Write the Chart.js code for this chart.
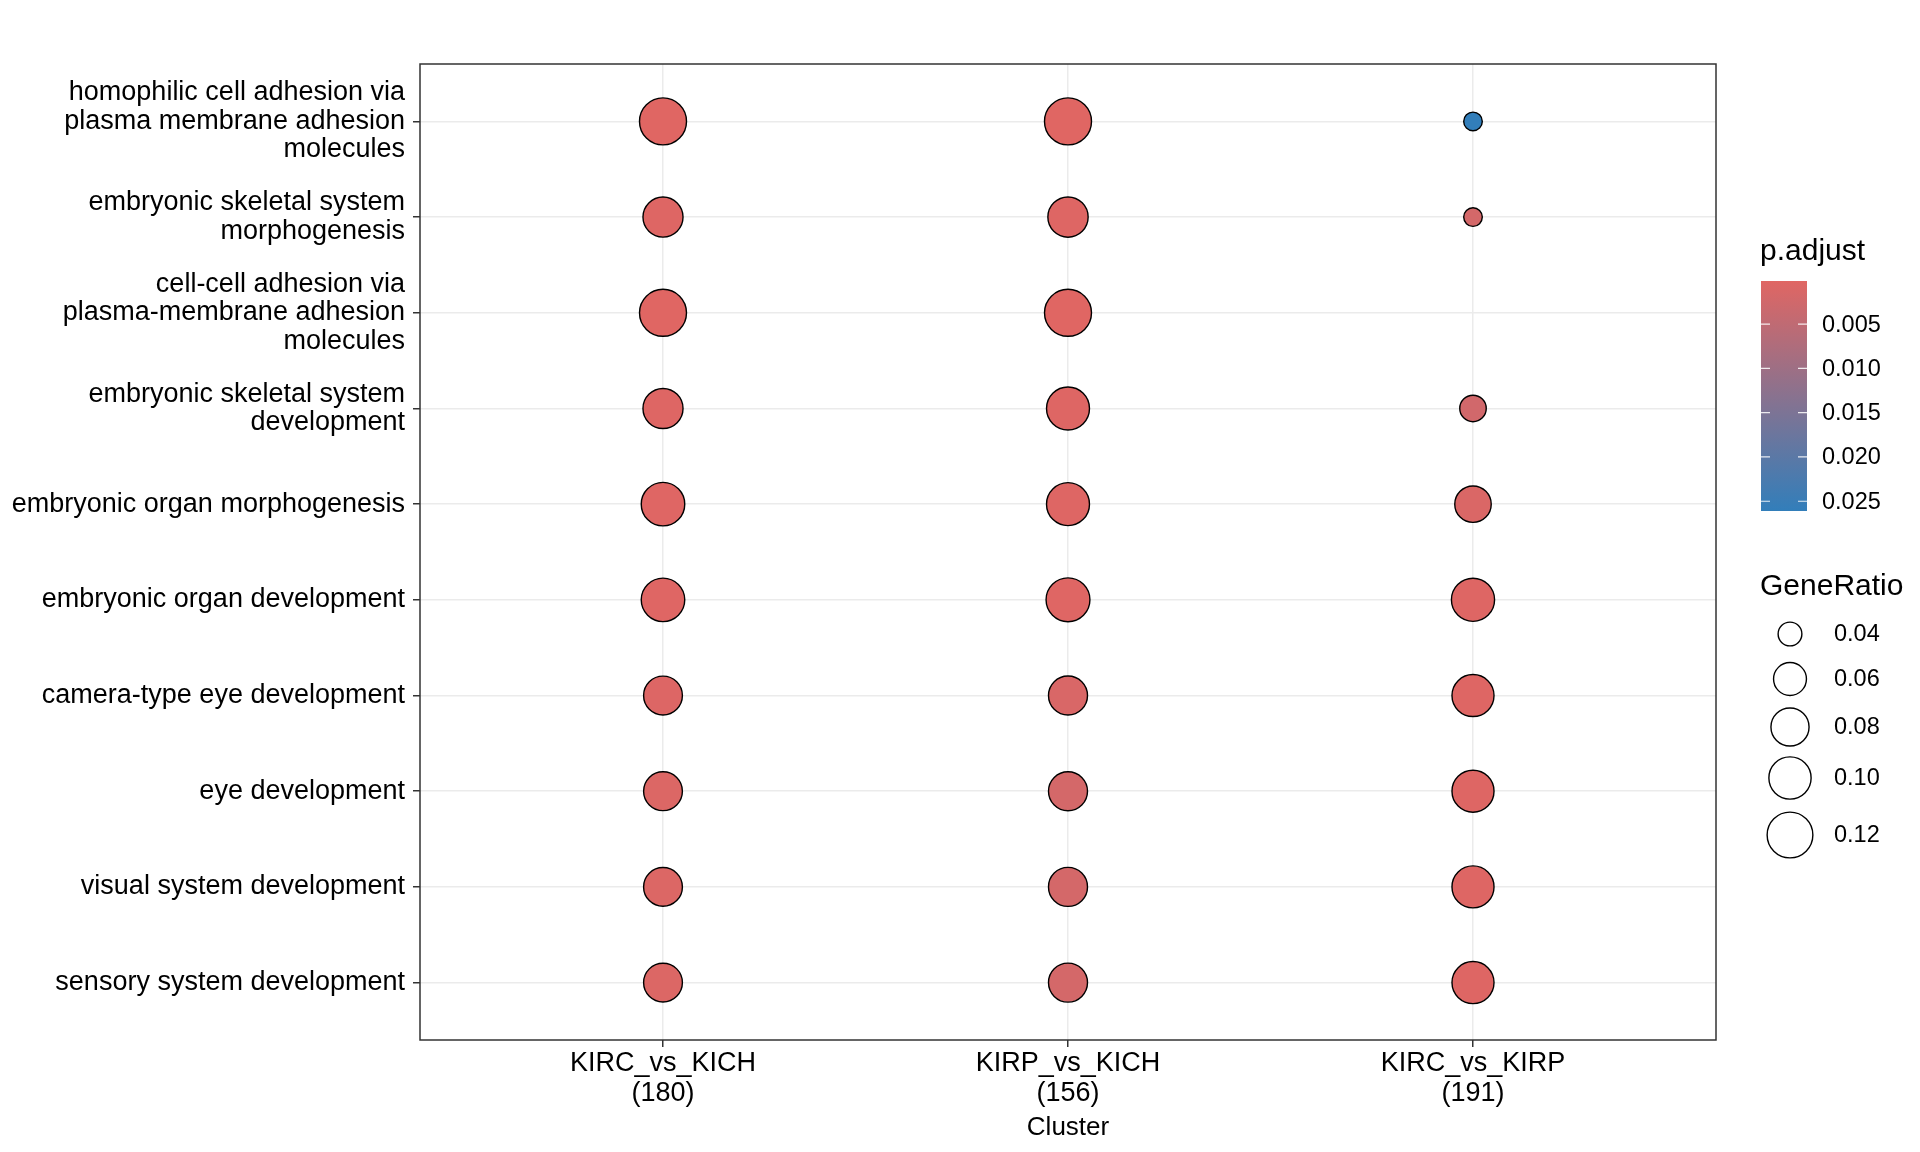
<!DOCTYPE html>
<html>
<head>
<meta charset="utf-8">
<script src="https://cdn.jsdelivr.net/npm/chart.js@4.4.1/dist/chart.umd.min.js"></script>
<style>
  body { margin: 0; background: #fff; }
  canvas { display: block; }
</style>
</head>
<body>
<canvas id="dotChart" width="1920" height="1152"></canvas>
<script>
// GO terms, top to bottom
const terms = [
    ['homophilic cell adhesion via', 'plasma membrane adhesion', 'molecules'],
    ['embryonic skeletal system', 'morphogenesis'],
    ['cell-cell adhesion via', 'plasma-membrane adhesion', 'molecules'],
    ['embryonic skeletal system', 'development'],
    ['embryonic organ morphogenesis'],
    ['embryonic organ development'],
    ['camera-type eye development'],
    ['eye development'],
    ['visual system development'],
    ['sensory system development']
];
const clusters = ['KIRC_vs_KICH', 'KIRP_vs_KICH', 'KIRC_vs_KIRP'];
const clusterSizes = [180, 156, 191];

// GeneRatio per cluster (same order as terms)
const ratioKircKich = [0.128, 0.089, 0.128, 0.089, 0.107, 0.107, 0.083, 0.083, 0.083, 0.083];
const ratioKirpKich = [0.128, 0.090, 0.128, 0.104, 0.104, 0.109, 0.084, 0.084, 0.084, 0.084];
const ratioKircKirp = [0.037, 0.037, null, 0.044, 0.073, 0.105, 0.099, 0.099, 0.099, 0.099];

// p.adjust per cluster
const padjKircKich = [0.00014, 0.0004, 0.00014, 0.0005, 0.0003, 0.0003, 0.0006, 0.0007, 0.0008, 0.0008];
const padjKirpKich = [0.0002, 0.0005, 0.0002, 0.0004, 0.0004, 0.0003, 0.0012, 0.0019, 0.0020, 0.0020];
const padjKircKirp = [0.0261, 0.0020, null, 0.0024, 0.0010, 0.0004, 0.0004, 0.0005, 0.0005, 0.0005];

const sizeBreaks = [0.04, 0.06, 0.08, 0.10, 0.12];
const padjBreaks = [0.005, 0.010, 0.015, 0.020, 0.025];

const ratios = [ratioKircKich, ratioKirpKich, ratioKircKirp];
const padjs = [padjKircKich, padjKirpKich, padjKircKirp];

const allRatios = ratios.flat().filter(v => v !== null);
const allPadj = padjs.flat().filter(v => v !== null);
const ratioMin = Math.min(...allRatios), ratioMax = Math.max(...allRatios);
const padjMin = Math.min(...allPadj), padjMax = Math.max(...allPadj);

const FONT = 'Liberation Sans, Arial, Helvetica, sans-serif';
const lowColor = [224, 102, 99];   // #E06663
const highColor = [50, 126, 186];  // #327EBA

// area scale like ggplot scale_size
function sizeOf(v) {
    const t = Math.max(0, (v - ratioMin) / (ratioMax - ratioMin));
    return 9.3 + 14.2 * Math.sqrt(t);
}
function colorOf(p) {
    const t = Math.min(1, Math.max(0, (p - padjMin) / (padjMax - padjMin)));
    const c = lowColor.map((l, i) => Math.round(l + (highColor[i] - l) * t));
    return 'rgb(' + c.join(',') + ')';
}

const points = [];
clusters.forEach((c, ci) => {
    terms.forEach((t, ti) => {
        const v = ratios[ci][ti];
        if (v === null) return;
        points.push({ x: ci + 1, y: ti + 1, r: sizeOf(v), p: padjs[ci][ti] });
    });
});

const legendPlugin = {
    id: 'ggLegend',
    beforeDatasetsDraw(chart) {
        const a = chart.chartArea, ctx = chart.ctx;
        ctx.save();
        ctx.strokeStyle = '#333';
        ctx.lineWidth = 1.5;
        ctx.strokeRect(a.left, a.top, a.right - a.left, a.bottom - a.top);
        ctx.restore();
    },
    afterDraw(chart) {
        const ctx = chart.ctx;
        const a = chart.chartArea;
        const x0 = a.right + 45;
        ctx.save();
        ctx.fillStyle = '#000';
        ctx.textBaseline = 'middle';
        ctx.textAlign = 'left';

        // p.adjust colour bar
        ctx.font = '30px ' + FONT;
        ctx.fillText('p.adjust', x0 - 1, 252);
        const barTop = 281, barH = 230, barW = 46;
        const grad = ctx.createLinearGradient(0, barTop, 0, barTop + barH);
        grad.addColorStop(0, colorOf(padjMin));
        grad.addColorStop(0.5, colorOf((padjMin + padjMax) / 2));
        grad.addColorStop(1, colorOf(padjMax));
        ctx.fillStyle = grad;
        ctx.fillRect(x0, barTop, barW, barH);
        ctx.font = '23.5px ' + FONT;
        padjBreaks.forEach(b => {
            const y = barTop + (b - padjMin) / (padjMax - padjMin) * barH;
            ctx.strokeStyle = 'rgba(255,255,255,0.85)';
            ctx.lineWidth = 1.2;
            ctx.beginPath();
            ctx.moveTo(x0, y); ctx.lineTo(x0 + 9, y);
            ctx.moveTo(x0 + barW - 9, y); ctx.lineTo(x0 + barW, y);
            ctx.stroke();
            ctx.fillStyle = '#000';
            ctx.fillText(b.toFixed(3), x0 + 61, y + 1);
        });

        // GeneRatio size legend
        ctx.font = '30px ' + FONT;
        ctx.fillText('GeneRatio', x0 - 1, 587);
        const ys = [634, 679, 727, 778, 835];
        ctx.font = '23.5px ' + FONT;
        sizeBreaks.forEach((b, i) => {
            ctx.beginPath();
            ctx.arc(x0 + 29, ys[i], sizeOf(b), 0, Math.PI * 2);
            ctx.strokeStyle = '#000';
            ctx.lineWidth = 1.4;
            ctx.stroke();
            ctx.fillStyle = '#000';
            ctx.fillText(b.toFixed(2), x0 + 73, ys[i] + 1);
        });
        ctx.restore();
    }
};

const ctx = document.getElementById('dotChart').getContext('2d');
const dotChart = new Chart(ctx, {
    type: 'bubble',
    data: {
        datasets: [{
            data: points,
            backgroundColor: points.map(d => colorOf(d.p)),
            borderColor: '#000',
            borderWidth: 1.4
        }]
    },
    options: {
        responsive: false,
        animation: false,
        devicePixelRatio: 1,
        events: [],
        layout: { padding: { top: 64, right: 204, left: 0, bottom: 0 } },
        plugins: { legend: { display: false }, tooltip: { enabled: false } },
        scales: {
            x: {
                type: 'linear',
                min: 0.4,
                max: 3.6,
                afterBuildTicks: s => { s.ticks = clusters.map((c, i) => ({ value: i + 1 })); },
                afterFit: s => { s.height = 112; },
                ticks: {
                    autoSkip: false,
                    maxRotation: 0,
                    padding: 2,
                    color: '#000',
                    font: { family: FONT, size: 27, lineHeight: 1.1 },
                    callback: v => [clusters[v - 1], '(' + clusterSizes[v - 1] + ')']
                },
                grid: { color: '#EBEBEB', lineWidth: 1.5, tickColor: '#333', tickLength: 7, tickWidth: 1.5 },
                border: { display: false },
                title: {
                    display: true,
                    text: 'Cluster',
                    color: '#000',
                    font: { family: FONT, size: 26 },
                    padding: { top: 0, bottom: 9 }
                }
            },
            y: {
                type: 'linear',
                reverse: true,
                min: 0.4,
                max: 10.6,
                afterBuildTicks: s => { s.ticks = terms.map((t, i) => ({ value: i + 1 })); },
                afterFit: s => { s.width = 420; },
                ticks: {
                    autoSkip: false,
                    padding: 8,
                    color: '#000',
                    font: { family: FONT, size: 27, lineHeight: 1.06 },
                    callback: v => terms[v - 1]
                },
                grid: { color: '#EBEBEB', lineWidth: 1.5, tickColor: '#333', tickLength: 7, tickWidth: 1.5 },
                border: { display: false }
            }
        }
    },
    plugins: [legendPlugin]
});
</script>
</body>
</html>
